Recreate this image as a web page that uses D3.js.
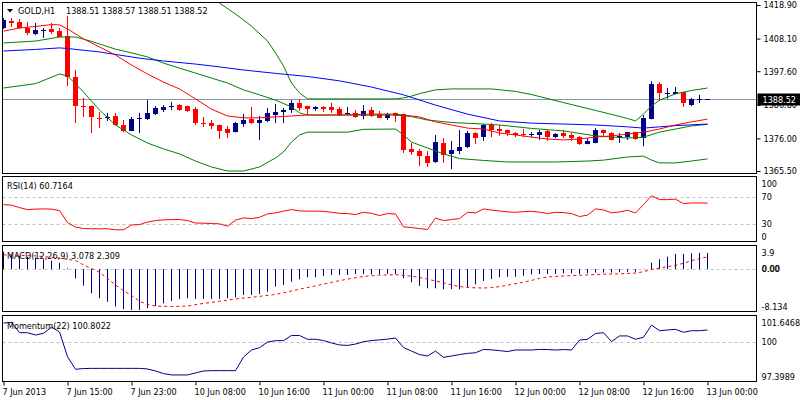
<!DOCTYPE html>
<html><head><meta charset="utf-8">
<script src="https://cdn.jsdelivr.net/npm/d3@7"></script>
<style>
body{margin:0;background:#fff;}
svg{display:block;}
text{font-family:'DejaVu Sans Condensed','DejaVu Sans',sans-serif;font-size:9px;fill:#000;}
</style></head><body>
<svg id="c" width="800" height="400"></svg>
<script>
// ---------- data ----------
const symbolTitle = "GOLD,H1";
const lastQuote = "1388.51 1388.57 1388.51 1388.52";
const rsiTitle = "RSI(14) 60.7164";
const macdTitle = "MACD(12,26,9) 3.078 2.309";
const momTitle = "Momentum(22) 100.8022";
const timeLabels = ["7 Jun 2013","7 Jun 15:00","7 Jun 23:00","10 Jun 08:00","10 Jun 16:00","11 Jun 00:00","11 Jun 08:00","11 Jun 16:00","12 Jun 00:00","12 Jun 08:00","12 Jun 16:00","13 Jun 00:00"];
const priceTicks = [1418.90,1408.10,1397.60,1386.80,1376.00,1365.50];
const bidPrice = 1388.52;

const opens = [1411.5,1413.8,1413.5,1411.5,1409.6,1410.8,1411.2,1410.5,1408.9,1395.7,
1386.5,1386.4,1382.7,1382.8,1383.2,1380.3,1378.4,1382.5,1382.2,1383.8,
1385.1,1386.3,1386.7,1386.4,1385.4,1381.0,1380.9,1380.3,1379.0,1378.0,
1380.6,1382.2,1380.9,1381.6,1383.5,1384.5,1385.1,1387.4,1386.4,1385.4,
1386.1,1386.1,1385.4,1384.1,1384.2,1383.2,1385.1,1383.8,1382.6,1384.2,
1383.8,1372.6,1371.9,1370.3,1368.4,1374.5,1371.0,1372.0,1373.2,1377.7,
1376.4,1380.3,1379.0,1378.7,1377.7,1377.5,1377.4,1377.1,1378.4,1376.4,
1377.7,1377.1,1376.4,1374.2,1374.5,1378.7,1377.7,1376.1,1376.4,1378.0,
1376.1,1382.2,1393.5,1390.5,1390.3,1390.9,1386.7,1388.6,1388.51];
const highs = [1414.7,1414.7,1414.4,1413.4,1413.1,1411.5,1413.1,1411.5,1415.4,1398.0,
1389.0,1386.5,1384.5,1384.2,1384.2,1381.9,1382.9,1384.2,1388.3,1386.4,
1386.7,1387.7,1387.1,1386.5,1386.1,1382.9,1381.9,1380.4,1380.0,1381.3,
1383.8,1386.1,1383.2,1385.8,1387.1,1385.8,1388.3,1388.7,1386.5,1386.4,
1386.4,1387.4,1386.1,1386.1,1385.1,1386.7,1386.1,1384.8,1384.2,1384.3,
1383.9,1374.5,1372.6,1371.9,1377.1,1376.1,1375.2,1378.7,1378.4,1378.0,
1380.6,1381.0,1380.3,1378.8,1378.0,1379.0,1378.0,1378.7,1378.7,1377.7,
1378.7,1377.7,1376.8,1376.1,1379.3,1378.8,1378.0,1377.7,1378.1,1378.1,
1383.5,1394.4,1394.1,1392.2,1392.5,1391.0,1389.0,1390.0,1388.57];
const lows = [1411.2,1411.8,1411.2,1409.2,1409.2,1408.3,1409.6,1408.5,1392.8,1380.9,
1382.9,1377.7,1379.3,1381.6,1380.2,1378.0,1378.3,1377.7,1381.9,1383.5,
1384.5,1385.1,1384.8,1384.5,1380.3,1379.7,1379.0,1375.8,1376.1,1377.9,
1379.7,1380.6,1375.5,1381.3,1380.9,1380.9,1384.2,1384.8,1383.5,1384.8,
1384.5,1384.2,1383.2,1383.5,1382.6,1382.2,1382.9,1382.5,1381.9,1381.3,
1371.3,1370.7,1367.1,1366.8,1368.1,1368.1,1366.1,1371.0,1372.9,1374.2,
1375.2,1376.4,1376.8,1376.8,1376.4,1376.4,1376.4,1375.5,1375.2,1376.1,
1376.1,1375.2,1373.9,1374.1,1374.4,1376.4,1375.4,1374.5,1375.5,1375.5,
1373.5,1382.1,1388.0,1388.7,1390.2,1386.1,1386.4,1387.4,1388.51];
const closes = [1414.1,1413.2,1411.4,1409.9,1410.9,1410.9,1410.2,1408.6,1395.7,1386.4,
1386.3,1382.9,1382.5,1382.9,1380.3,1378.4,1382.2,1382.6,1384.2,1385.8,
1386.1,1386.4,1385.1,1384.8,1380.9,1380.9,1380.0,1378.4,1377.7,1380.9,
1381.9,1380.9,1381.9,1384.2,1384.5,1385.1,1387.4,1385.8,1385.4,1386.1,
1385.4,1385.1,1383.5,1384.2,1382.9,1384.8,1383.2,1382.6,1383.8,1383.2,
1372.3,1371.6,1370.3,1368.1,1374.8,1370.7,1372.3,1373.2,1377.7,1376.1,
1380.3,1378.7,1378.4,1377.7,1377.1,1377.4,1377.5,1378.0,1376.4,1377.4,
1376.8,1376.1,1374.2,1375.2,1378.7,1377.7,1375.5,1376.8,1378.0,1375.8,
1382.6,1393.5,1390.6,1390.6,1390.9,1387.4,1388.7,1388.7,1388.52];

// moving averages / bands: [bar index, price]
const maFast = [[0,1410.5],[2,1411.5],[4,1412.0],[6,1412.6],[7,1412.5],[8,1411.2],[10,1408.0],[12,1405.4],[14,1402.8],[16,1399.6],[18,1396.7],[20,1394.1],[22,1391.9],[24,1388.7],[26,1385.4],[28,1383.2],[30,1382.6],[32,1382.6],[34,1382.9],[36,1383.2],[38,1383.5],[42,1383.5],[46,1383.8],[49,1383.8],[50,1383.5],[52,1382.9],[54,1381.3],[56,1380.3],[58,1379.3],[60,1379.0],[62,1377.7],[64,1377.1],[66,1376.4],[68,1375.8],[70,1375.5],[72,1375.8],[74,1376.4],[76,1376.8],[78,1377.4],[79,1377.7],[80,1378.0],[82,1379.0],[84,1380.3],[86,1381.3],[88,1382.2]];
const maSlow = [[0,1404.1],[4,1404.6],[7,1405.1],[8,1404.9],[12,1403.8],[17,1401.8],[20,1400.9],[24,1399.9],[26,1399.3],[30,1398.0],[34,1396.9],[38,1395.9],[42,1394.5],[46,1392.5],[50,1390.0],[54,1386.7],[58,1383.8],[62,1381.6],[66,1380.9],[70,1380.6],[74,1380.3],[78,1379.7],[80,1379.3],[82,1379.7],[84,1380.1],[88,1380.6]];
const bbMid = [[0,1406.7],[4,1407.3],[7,1408.6],[9,1408.6],[11,1407.2],[14,1404.7],[16,1403.5],[18,1402.2],[20,1400.2],[22,1398.6],[24,1397.0],[26,1395.4],[28,1393.8],[30,1391.6],[32,1390.0],[34,1388.3],[36,1386.1],[37,1384.2],[38,1383.5],[49,1383.5],[51,1383.0],[53,1381.9],[56,1381.1],[60,1380.6],[62,1380.3],[66,1379.2],[70,1378.4],[74,1376.8],[78,1376.1],[80,1376.4],[82,1378.0],[84,1379.0],[86,1380.0],[88,1380.5]];
const bbUpper = [[26,1421.8],[27,1419.5],[29,1416.0],[31,1412.1],[33,1407.3],[34,1403.5],[35,1399.3],[36,1393.8],[37,1390.6],[38,1388.7],[49,1388.7],[50,1389.0],[51,1389.6],[52,1390.4],[54,1391.6],[56,1391.9],[61,1391.9],[64,1391.1],[66,1390.1],[70,1387.5],[74,1385.0],[78,1382.4],[79,1381.6],[80,1383.8],[81,1386.4],[82,1388.3],[84,1390.3],[86,1391.4],[88,1392.2]];
const bbLower = [[0,1392.2],[4,1393.6],[7,1396.7],[8,1396.1],[9,1393.5],[10,1390.9],[12,1385.1],[14,1380.3],[16,1377.1],[18,1374.5],[20,1372.6],[22,1371.0],[24,1368.7],[26,1366.8],[28,1365.5],[30,1365.5],[32,1366.8],[34,1369.7],[35,1371.6],[36,1374.8],[37,1377.1],[38,1378.0],[43,1378.0],[45,1378.9],[49,1379.0],[50,1377.1],[51,1374.8],[53,1372.9],[55,1371.0],[57,1369.5],[60,1368.9],[63,1368.4],[69,1368.4],[73,1368.7],[75,1369.0],[78,1370.0],[80,1370.3],[81,1369.0],[82,1368.1],[84,1368.1],[86,1368.7],[88,1369.4]];

const rsiValues = [58.5,57.7,54.0,51.0,51.7,52.0,51.7,49.5,31.5,24.8,
22.5,22.1,22.1,22.1,20.6,20.6,27.8,28.5,32.2,34.5,
35.5,36.0,36.0,34.5,30.8,30.5,30.0,29.6,26.0,35.2,
38.5,37.5,39.4,44.5,46.0,48.7,51.0,49.0,48.7,48.7,
48.4,46.9,45.4,45.0,43.5,46.9,45.4,42.0,45.0,44.5,
25.1,24.0,22.5,21.0,38.2,34.5,36.0,37.5,46.9,46.0,
52.0,50.2,49.0,47.5,46.9,48.0,48.4,47.2,45.0,46.9,
46.5,45.0,40.5,42.7,52.0,50.5,46.0,47.5,49.9,46.0,
58.5,71.9,66.0,66.0,66.7,60.0,61.0,61.0,60.7];
const rsiLevels = [70,30];
const rsiLabels = [100,70,30,0];

const macdHist = [3.3,2.67,2.5,2.35,2.16,1.85,1.6,1.2,0.15,-1.75,
-3.14,-4.6,-5.5,-6.2,-7.1,-7.6,-7.75,-7.75,-7.4,-7.0,
-6.5,-6.05,-5.7,-5.5,-5.65,-5.65,-5.65,-5.65,-5.5,-5.35,
-4.9,-4.9,-4.7,-4.3,-3.3,-3.0,-2.4,-1.95,-1.55,-1.55,
-1.3,-1.12,-1.12,-1.12,-0.93,-0.93,-1.0,-1.0,-0.93,-0.93,
-1.75,-2.5,-3.2,-3.65,-3.65,-3.83,-3.8,-3.83,-3.45,-2.9,
-2.25,-1.9,-1.55,-1.45,-1.45,-1.25,-1.0,-0.93,-0.93,-0.93,
-0.8,-0.8,-0.93,-0.8,-0.68,-0.68,-0.68,-0.6,-0.5,-0.5,
0.05,1.2,1.85,2.35,2.86,2.86,3.0,3.1,3.078];
const macdSignal = [[0,2.7],[4,2.5],[7,2.1],[9,1.6],[10,0.8],[11,0.1],[12,-0.6],[13,-1.8],[14,-3.0],[15,-4.1],[16,-5.0],[17,-6.1],[18,-6.7],[19,-7.0],[21,-7.1],[23,-7.0],[25,-6.5],[27,-6.1],[29,-5.65],[31,-5.35],[34,-4.8],[35,-4.5],[37,-3.8],[39,-3.2],[41,-2.5],[43,-1.9],[45,-1.4],[47,-1.15],[49,-1.05],[51,-1.35],[52,-1.6],[53,-1.9],[55,-2.6],[56,-3.0],[57,-3.3],[58,-3.5],[60,-3.6],[61,-3.5],[62,-3.33],[63,-3.05],[65,-2.5],[66,-2.15],[67,-1.75],[68,-1.5],[70,-1.3],[71,-1.25],[73,-1.1],[75,-0.98],[77,-0.9],[79,-0.75],[80,-0.5],[81,-0.1],[82,0.2],[83,0.45],[84,0.7],[85,1.1],[86,1.6],[87,2.0],[88,2.31]];
const macdRange = [-8.134,3.9];

const momValues = [101.25,101.3,100.62,100.62,100.47,100.58,100.99,100.67,99.05,98.23,
98.28,98.29,98.29,98.29,98.29,98.29,98.29,98.29,98.25,98.12,
97.95,97.86,97.86,97.86,97.99,98.12,98.14,98.14,98.14,98.14,
99.03,99.49,99.64,100.01,100.10,100.10,100.44,100.44,100.19,100.19,
100.11,99.95,99.82,99.79,99.88,100.03,100.11,100.15,100.20,100.27,
99.65,99.42,99.19,99.10,99.42,99.01,99.10,99.19,99.27,99.31,
99.53,99.50,99.45,99.39,99.49,99.49,99.49,99.53,99.52,99.49,
99.52,99.49,100.14,100.19,100.57,100.62,100.04,100.41,100.41,100.19,
100.32,101.12,100.75,100.80,100.84,100.65,100.75,100.75,100.80];
const momRange = [97.3989,101.6468];

// ---------- layout ----------
const svg = d3.select('#c');
const L = 2.5, R = 756.5;
const panels = [{top:2.5,bot:173.5},{top:176.5,bot:241.5},{top:245.5,bot:311.5},{top:315.5,bot:381.5}];
const x = d3.scaleLinear().domain([0,88]).range([3.5,707.5]);
const yP = d3.scaleLinear().domain([1365.5,1418.9]).range([171,5]);
const yR = d3.scaleLinear().domain([0,100]).range([243.5,177]);
const yM = d3.scaleLinear().domain(macdRange).range([312,248.5]);
const yMo = d3.scaleLinear().domain(momRange).range([382,317]);

const defs = svg.append('defs');
panels.forEach((p,i)=>{
  defs.append('clipPath').attr('id','clip'+i).append('rect')
    .attr('x',L).attr('y',p.top).attr('width',R-L).attr('height',p.bot-p.top);
});
const NAVY='#000080', RED='#ff0000', GREEN='#008000', BLUE='#0000ff', GRAY='#c0c0c0';

// ---------- main panel ----------
const gMain = svg.append('g').attr('clip-path','url(#clip0)');
gMain.append('line').attr('x1',L).attr('x2',R).attr('y1',Math.round(yP(bidPrice))+0.5).attr('y2',Math.round(yP(bidPrice))+0.5)
  .attr('stroke','#8796a8').attr('stroke-width',1);
const idx = d3.range(opens.length);
const cand = gMain.selectAll('g.c').data(idx).join('g').attr('class','c');
cand.append('line')
  .attr('x1',i=>x(i)).attr('x2',i=>x(i))
  .attr('y1',i=>yP(highs[i])).attr('y2',i=>yP(lows[i]))
  .attr('stroke',i=>closes[i]>=opens[i]?NAVY:RED).attr('stroke-width',1);
cand.append('rect')
  .attr('x',i=>x(i)-2.5).attr('width',5)
  .attr('y',i=>Math.round(yP(Math.max(opens[i],closes[i]))))
  .attr('height',i=>Math.max(1,Math.round(yP(Math.min(opens[i],closes[i])))-Math.round(yP(Math.max(opens[i],closes[i])))))
  .attr('fill',i=>closes[i]>=opens[i]?NAVY:RED);

const lineP = d3.line().x(d=>x(d[0])).y(d=>yP(d[1]));
[[bbUpper,GREEN],[bbLower,GREEN],[bbMid,GREEN],[maSlow,BLUE],[maFast,RED]].forEach(([d,c])=>{
  gMain.append('path').attr('d',lineP(d)).attr('fill','none').attr('stroke',c).attr('stroke-width',1);
});

// ---------- RSI ----------
const gR = svg.append('g').attr('clip-path','url(#clip1)');
rsiLevels.forEach(v=>gR.append('line').attr('x1',L).attr('x2',R).attr('y1',Math.round(yR(v))+0.5).attr('y2',Math.round(yR(v))+0.5)
  .attr('stroke',GRAY).attr('stroke-dasharray','3,3'));
gR.append('path').attr('d',d3.line().x((d,i)=>x(i)).y(d=>yR(d))(rsiValues)).attr('fill','none').attr('stroke',RED);

// ---------- MACD ----------
const gM = svg.append('g').attr('clip-path','url(#clip2)');
gM.append('line').attr('x1',L).attr('x2',R).attr('y1',Math.round(yM(0))+0.5).attr('y2',Math.round(yM(0))+0.5)
  .attr('stroke',GRAY).attr('stroke-dasharray','3,3');
gM.selectAll('rect.h').data(macdHist).join('rect').attr('class','h')
  .attr('x',(d,i)=>x(i)-0.5).attr('width',1)
  .attr('y',d=>Math.min(yM(d),yM(0))).attr('height',d=>Math.abs(yM(d)-yM(0)))
  .attr('fill',NAVY);
gM.append('path').attr('d',d3.line().x(d=>x(d[0])).y(d=>yM(d[1]))(macdSignal))
  .attr('fill','none').attr('stroke',RED).attr('stroke-dasharray','3,3');

// ---------- Momentum ----------
const gMo = svg.append('g').attr('clip-path','url(#clip3)');
gMo.append('line').attr('x1',L).attr('x2',R).attr('y1',Math.round(yMo(100))+0.5).attr('y2',Math.round(yMo(100))+0.5)
  .attr('stroke',GRAY).attr('stroke-dasharray','3,3');
gMo.append('path').attr('d',d3.line().x((d,i)=>x(i)).y(d=>yMo(d))(momValues)).attr('fill','none').attr('stroke',NAVY);

// ---------- frames ----------
panels.forEach(p=>svg.append('rect').attr('x',L).attr('y',p.top).attr('width',R-L).attr('height',p.bot-p.top)
  .attr('fill','none').attr('stroke','#000').attr('stroke-width',1));

// ---------- axes ----------
const axP = svg.append('g').attr('transform',`translate(${R},0)`)
  .call(d3.axisRight(yP).tickValues(priceTicks).tickFormat(d3.format('.2f')).tickSize(4).tickPadding(3));
axP.select('.domain').remove();
axP.selectAll('line').attr('stroke','#000');

function sideLabels(vals, scale, p, fmt){
  vals.forEach(v=>{
    const yy = Math.min(Math.max(scale(v), p.top+7), p.bot-5);
    svg.append('text').attr('x',R+5).attr('y',yy).attr('dy','0.35em').text(fmt(v));
  });
}
sideLabels(rsiLabels, yR, panels[1], v=>String(v));
sideLabels([macdRange[1]], yM, panels[2], v=>String(v));
sideLabels([0], yM, panels[2], v=>'0.00');
svg.append('text').attr('x',R+5.6).attr('y',yM(0)).attr('dy','0.35em').text('0.00');
sideLabels([macdRange[0]], yM, panels[2], v=>String(v));
sideLabels([momRange[1],100,momRange[0]], yMo, panels[3], v=>String(v));

const axX = svg.append('g').attr('transform',`translate(0,${panels[3].bot})`)
  .call(d3.axisBottom(x).tickValues(d3.range(0,89,8)).tickFormat((d,i)=>timeLabels[i]).tickSize(4).tickPadding(3));
axX.select('.domain').remove();
axX.selectAll('line').attr('stroke','#000');
axX.selectAll('text').attr('text-anchor','start').attr('x',-1.5);

// bid price box
const yb = Math.round(yP(bidPrice));
svg.append('rect').attr('x',R+1).attr('y',yb-5.5).attr('width',800-R).attr('height',12).attr('fill','#000');
svg.append('text').attr('x',R+6).attr('y',yb+0.5).attr('dy','0.35em').style('fill','#fff').text(bidPrice.toFixed(2));

// ---------- titles ----------
svg.append('path').attr('d','M7,9 L13,9 L10,12.5 Z').attr('fill','#000');
svg.append('text').attr('x',18).attr('y',10.5).attr('dy','0.35em').text(symbolTitle);
svg.append('text').attr('x',66).attr('y',10.5).attr('dy','0.35em').text(lastQuote);
svg.append('text').attr('x',7).attr('y',185.5).attr('dy','0.35em').text(rsiTitle);
svg.append('text').attr('x',7).attr('y',255.5).attr('dy','0.35em').text(macdTitle);
svg.append('text').attr('x',7).attr('y',325.5).attr('dy','0.35em').text(momTitle);
</script>
</body></html>
